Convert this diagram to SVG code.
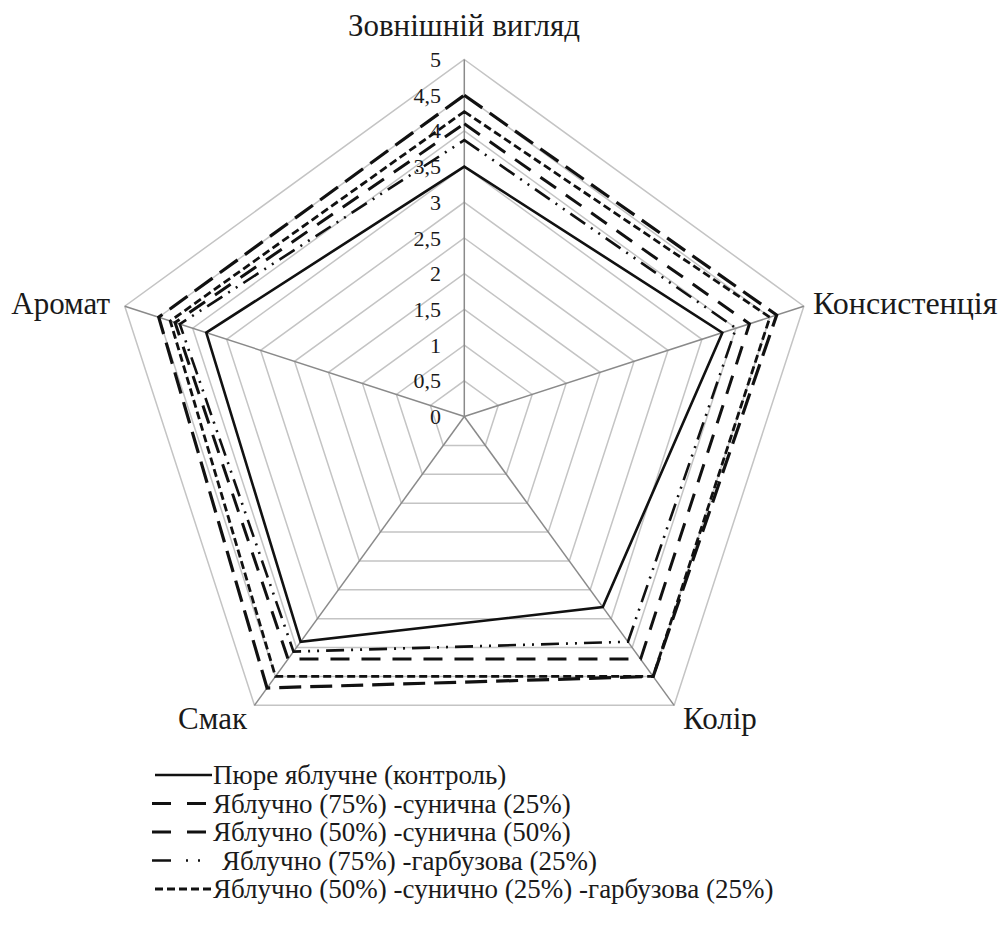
<svg xmlns="http://www.w3.org/2000/svg" width="1004" height="946" viewBox="0 0 1004 946">
<rect width="1004" height="946" fill="#fff"/>
<g id="grid" transform="translate(464.3,416.5)" fill="none" stroke="#c4c4c4" stroke-width="1.5">
<polygon points="0,-35.7 33.95,-11.03 20.98,28.88 -20.98,28.88 -33.95,-11.03"/>
<polygon points="0,-71.4 67.91,-22.06 41.97,57.76 -41.97,57.76 -67.91,-22.06"/>
<polygon points="0,-107.1 101.86,-33.1 62.95,86.65 -62.95,86.65 -101.86,-33.1"/>
<polygon points="0,-142.8 135.81,-44.13 83.94,115.53 -83.94,115.53 -135.81,-44.13"/>
<polygon points="0,-178.5 169.76,-55.16 104.92,144.41 -104.92,144.41 -169.76,-55.16"/>
<polygon points="0,-214.2 203.72,-66.19 125.9,173.29 -125.9,173.29 -203.72,-66.19"/>
<polygon points="0,-249.9 237.67,-77.22 146.89,202.17 -146.89,202.17 -237.67,-77.22"/>
<polygon points="0,-285.6 271.62,-88.26 167.87,231.06 -167.87,231.06 -271.62,-88.26"/>
<polygon points="0,-321.3 305.58,-99.29 188.86,259.94 -188.86,259.94 -305.58,-99.29"/>
<polygon points="0,-357 339.53,-110.32 209.84,288.82 -209.84,288.82 -339.53,-110.32"/>
<g stroke="#8a8a8a">
<line x1="0" y1="0" x2="0" y2="-357"/>
<line x1="0" y1="0" x2="339.53" y2="-110.32"/>
<line x1="0" y1="0" x2="209.84" y2="288.82"/>
<line x1="0" y1="0" x2="-209.84" y2="288.82"/>
<line x1="0" y1="0" x2="-339.53" y2="-110.32"/>
</g>
</g>
<g id="ticks" font-family="Liberation Serif" font-size="22" text-anchor="end" fill="#1a1a1a">
<text font-family="Liberation Serif" x="441" y="67">5</text>
<text font-family="Liberation Serif" x="441" y="102.7">4,5</text>
<text font-family="Liberation Serif" x="441" y="138.4">4</text>
<text font-family="Liberation Serif" x="441" y="174.1">3,5</text>
<text font-family="Liberation Serif" x="441" y="209.8">3</text>
<text font-family="Liberation Serif" x="441" y="245.5">2,5</text>
<text font-family="Liberation Serif" x="441" y="281.2">2</text>
<text font-family="Liberation Serif" x="441" y="316.9">1,5</text>
<text font-family="Liberation Serif" x="441" y="352.6">1</text>
<text font-family="Liberation Serif" x="441" y="388.3">0,5</text>
<text font-family="Liberation Serif" x="441" y="424">0</text>
</g>
<g id="series" transform="translate(464.3,416.5)" fill="none" stroke="#111">
<polygon id="series-control" stroke-width="2.6" points="0,-249.9 258.04,-83.84 138.49,190.62 -163.68,225.28 -258.04,-83.84"/>
<polygon id="series-75-25" stroke-width="3" stroke-dasharray="19 12" points="0,-292.74 285.2,-92.67 176.27,242.61 -176.27,242.61 -289.28,-93.99"/>
<polygon id="series-50-50" stroke-width="3.2" stroke-dasharray="22 9" points="0,-321.3 312.36,-101.49 188.86,259.94 -197.25,271.49 -305.58,-99.29"/>
<polygon id="series-75-pumpkin" stroke-width="2.6" stroke-dasharray="18 7 2 7 2 7" points="0,-276.32 271.62,-88.26 163.68,225.28 -170.81,235.1 -284.52,-92.45"/>
<polygon id="series-50-25-25" stroke-width="2.8" stroke-dasharray="8 4" points="0,-304.88 305.58,-99.29 188.86,259.94 -188.86,259.94 -294.03,-95.54"/>
</g>
<g id="axis-labels" font-family="Liberation Serif" font-size="31" fill="#1a1a1a">
<text id="lbl-top" font-family="Liberation Serif" x="464" y="36" text-anchor="middle">Зовнішній вигляд</text>
<text id="lbl-cons" font-family="Liberation Serif" font-size="32" x="813" y="314">Консистенція</text>
<text id="lbl-aroma" font-family="Liberation Serif" x="110" y="314" text-anchor="end">Аромат</text>
<text id="lbl-taste" font-family="Liberation Serif" x="247" y="729" text-anchor="end">Смак</text>
<text id="lbl-color" font-family="Liberation Serif" x="683" y="729">Колір</text>
</g>
<g id="legend" font-family="Liberation Serif" font-size="27" fill="#1a1a1a">
<g id="leg1"><line x1="155" y1="775" x2="212" y2="775" stroke="#111" stroke-width="2.6"/><text font-family="Liberation Serif" x="213" y="784">Пюре яблучне (контроль)</text></g>
<g id="leg2"><line x1="152" y1="803.5" x2="212" y2="803.5" stroke="#111" stroke-width="3" stroke-dasharray="19 16"/><text font-family="Liberation Serif" x="213" y="812.5">Яблучно (75%) -сунична (25%)</text></g>
<g id="leg3"><line x1="152" y1="832" x2="212" y2="832" stroke="#111" stroke-width="3.2" stroke-dasharray="19 16"/><text font-family="Liberation Serif" x="213" y="841">Яблучно (50%) -сунична (50%)</text></g>
<g id="leg4"><line x1="152" y1="860.5" x2="212" y2="860.5" stroke="#111" stroke-width="2.6" stroke-dasharray="19 15 2 10 2 14"/><text font-family="Liberation Serif" x="222" y="869.5">Яблучно (75%) -гарбузова (25%)</text></g>
<g id="leg5"><line x1="155" y1="889" x2="212" y2="889" stroke="#111" stroke-width="2.8" stroke-dasharray="8 4"/><text font-family="Liberation Serif" x="213" y="898">Яблучно (50%) -сунично (25%) -гарбузова (25%)</text></g>
</g>
</svg>
